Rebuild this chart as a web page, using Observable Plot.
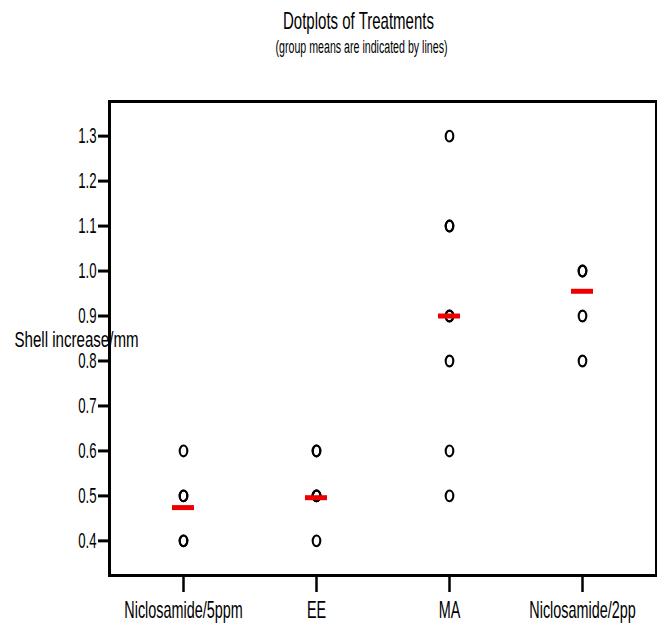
<!DOCTYPE html>
<html><head><meta charset="utf-8">
<script src="https://cdn.jsdelivr.net/npm/d3@7"></script>
<script src="https://cdn.jsdelivr.net/npm/@observablehq/plot@0.6"></script>
<style>body{margin:0;background:#fff}</style>
</head><body><div id="chart"></div>
<script>
const title = "Dotplots of Treatments";
const subtitle = "(group means are indicated by lines)";
const yLabel = "Shell increase/mm";
const groups = ["Niclosamide/5ppm", "EE", "MA", "Niclosamide/2pp"];
const niclo5Values = [0.6, 0.5, 0.5, 0.4, 0.4];
const eeValues = [0.6, 0.6, 0.5, 0.5, 0.5, 0.4];
const maValues = [1.3, 1.1, 1.1, 0.9, 0.9, 0.8, 0.6, 0.5];
const niclo2Values = [1.0, 1.0, 0.9, 0.8];
const meanValues = [0.474, 0.496, 0.9, 0.955];
const yTicks = [0.4, 0.5, 0.6, 0.7, 0.8, 0.9, 1.0, 1.1, 1.2, 1.3];

const seriesValues = [niclo5Values, eeValues, maValues, niclo2Values];
const points = groups.flatMap((g, i) => seriesValues[i].map(v => ({group: g, value: v})));
const means = groups.map((g, i) => ({group: g, mean: meanValues[i]}));

const ellipse = {
  draw(ctx, size) {
    const rx = 3.8, ry = 5.4, k = 0.5523;
    ctx.moveTo(rx, 0);
    ctx.bezierCurveTo(rx, ry * k, rx * k, ry, 0, ry);
    ctx.bezierCurveTo(-rx * k, ry, -rx, ry * k, -rx, 0);
    ctx.bezierCurveTo(-rx, -ry * k, -rx * k, -ry, 0, -ry);
    ctx.bezierCurveTo(rx * k, -ry, rx, -ry * k, rx, 0);
    ctx.closePath();
  }
};

const FONT = "'Liberation Sans', Arial, sans-serif";

const chart = Plot.plot({
  width: 657, height: 626,
  marginLeft: 109, marginRight: 1, marginTop: 101, marginBottom: 51,
  style: {fontFamily: FONT, background: "white", color: "black"},
  x: {type: "band", domain: groups, paddingInner: 0.835, paddingOuter: 0.47},
  y: {domain: [0.323, 1.377]},
  marks: [
    Plot.frame({strokeWidth: 3, stroke: "black"}),
    Plot.axisY({ticks: yTicks, tickFormat: d3.format(".1f"), tickSize: 11, strokeWidth: 3, tickPadding: 2, fontSize: 22, label: null}),
    Plot.axisX({tickSize: 17, strokeWidth: 2.5, tickPadding: 8, fontSize: 24, label: null}),
    Plot.dot(points, {x: "group", y: "value", symbol: ellipse, stroke: "black", strokeWidth: 2.1, r: 4}),
    Plot.tickY(means, {x: "group", y: "mean", stroke: "#ee0000", strokeWidth: 5}),
    Plot.text([title], {text: d => d, frameAnchor: "top-left", dx: 249, dy: -90, fontSize: 24, textAnchor: "middle"}),
    Plot.text([subtitle], {text: d => d, frameAnchor: "top-left", dx: 252, dy: -61, fontSize: 18, textAnchor: "middle"}),
    Plot.text([yLabel], {text: d => d, frameAnchor: "left", y: [0.85], dx: -95, dy: 1, textAnchor: "start", fontSize: 22})
  ]
});
document.getElementById("chart").appendChild(chart);

// Narrow the glyphs horizontally, as in the reference's condensed lettering
function squish(el, opts) {
  const w = el.getComputedTextLength();
  const target = opts.width != null ? opts.width : w * opts.factor;
  el.setAttribute("textLength", target);
  el.setAttribute("lengthAdjust", "spacingAndGlyphs");
}
const svg = d3.select(chart);
svg.selectAll('g[aria-label="y-axis tick label"] text').each(function() { squish(this, {factor: 0.6}); });
svg.selectAll('g[aria-label="x-axis tick label"] text').each(function() { squish(this, {factor: 0.6}); });
const textGroups = svg.selectAll('g[aria-label="text"]').nodes();
const targets = [151, 172, 124];
textGroups.forEach((g, i) => d3.select(g).selectAll("text").each(function() { squish(this, {width: targets[i]}); }));
</script>
</body></html>
